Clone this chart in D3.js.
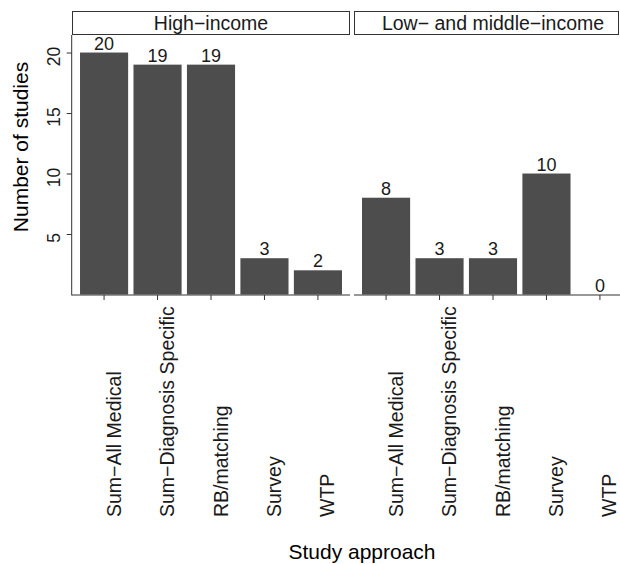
<!DOCTYPE html>
<html>
<head>
<meta charset="utf-8">
<script src="https://cdn.jsdelivr.net/npm/d3@7"></script>
<style>
  html, body { margin: 0; padding: 0; background: #fff; }
  svg { display: block; font-family: "Liberation Sans", Arial, Helvetica, sans-serif; }
</style>
</head>
<body>
<svg id="chart" width="620" height="564"></svg>
<script>
const categories = ["Sum\u2212All Medical", "Sum\u2212Diagnosis Specific", "RB/matching", "Survey", "WTP"];
const facets = ["High\u2212income", "Low\u2212 and middle\u2212income"];
const highIncome = [20, 19, 19, 3, 2];
const lowMiddleIncome = [8, 3, 3, 10, 0];
const yTicks = [5, 10, 15, 20];
const yTitle = "Number of studies";
const xTitle = "Study approach";

const seriesByFacet = [highIncome, lowMiddleIncome];

const svg = d3.select("#chart");
const barColor = "#4d4d4d";
const axisColor = "#333333";

const panelTop = 35, panelBottom = 294.5;
const panels = [
  { left: 72, right: 350, stripRight: 350 },
  { left: 354, right: 632, stripRight: 619 }
];

const y = d3.scaleLinear().domain([0, 21.45]).range([panelBottom, panelTop]);

panels.forEach((p, i) => {
  const x = d3.scaleBand().domain(categories).range([p.left, p.right])
    .paddingInner(0.1).paddingOuter(0.15);
  const values = seriesByFacet[i];
  const data = categories.map((c, j) => ({ cat: c, v: values[j] }));
  const g = svg.append("g");

  // strip
  g.append("rect")
    .attr("x", p.left + 0.5).attr("y", 11.5)
    .attr("width", p.stripRight - p.left - 1).attr("height", 23)
    .attr("fill", "#ffffff").attr("stroke", axisColor).attr("stroke-width", 1);
  g.append("text")
    .attr("x", (p.left + p.right) / 2).attr("y", 30)
    .attr("text-anchor", "middle").attr("font-size", 19.5).attr("fill", "#1a1a1a")
    .text(facets[i]);

  // bars
  g.selectAll("rect.bar").data(data).enter().append("rect")
    .attr("class", "bar")
    .attr("x", d => x(d.cat))
    .attr("width", x.bandwidth())
    .attr("y", d => y(d.v))
    .attr("height", d => y(0) - y(d.v))
    .attr("fill", barColor);

  // value labels
  g.selectAll("text.val").data(data).enter().append("text")
    .attr("class", "val")
    .attr("x", d => x(d.cat) + x.bandwidth() / 2)
    .attr("y", d => y(d.v) - 3)
    .attr("text-anchor", "middle").attr("font-size", 18).attr("fill", "#1a1a1a")
    .text(d => d.v);

  // x axis
  const xAxis = d3.axisBottom(x).tickSize(5).tickSizeOuter(0).tickFormat("");
  const xa = g.append("g").attr("transform", `translate(0,${panelBottom + 0.5})`).call(xAxis);
  xa.select(".domain").attr("stroke", axisColor).attr("d", `M${p.left},0H${p.right}`);
  xa.selectAll(".tick line").attr("stroke", axisColor);

  // rotated category labels
  g.selectAll("text.cat").data(categories).enter().append("text")
    .attr("class", "cat")
    .attr("transform", d => `translate(${x(d) + x.bandwidth() / 2 + 16.5},517) rotate(-90)`)
    .attr("text-anchor", "start").attr("font-size", 19.5).attr("fill", "#1a1a1a")
    .text(d => d);

  if (i === 0) {
    const yAxis = d3.axisLeft(y).tickValues(yTicks).tickSize(5).tickSizeOuter(0).tickFormat("");
    const ya = g.append("g").attr("transform", `translate(${p.left - 0.3},0)`).call(yAxis);
    ya.select(".domain").attr("stroke", axisColor).attr("d", `M0,${panelTop}V${panelBottom + 1}`);
    ya.selectAll(".tick line").attr("stroke", axisColor);
    g.selectAll("text.ytick").data(yTicks).enter().append("text")
      .attr("class", "ytick")
      .attr("transform", d => `translate(60,${y(d) + 4}) rotate(-90)`)
      .attr("text-anchor", "middle").attr("font-size", 17.5).attr("fill", "#1a1a1a")
      .text(d => d);
  }
});

// axis titles
svg.append("text")
  .attr("transform", "translate(28,147) rotate(-90)")
  .attr("text-anchor", "middle").attr("font-size", 21).attr("fill", "#000")
  .text(yTitle);
svg.append("text")
  .attr("x", 362).attr("y", 559)
  .attr("text-anchor", "middle").attr("font-size", 21).attr("fill", "#000")
  .text(xTitle);
</script>
</body>
</html>
